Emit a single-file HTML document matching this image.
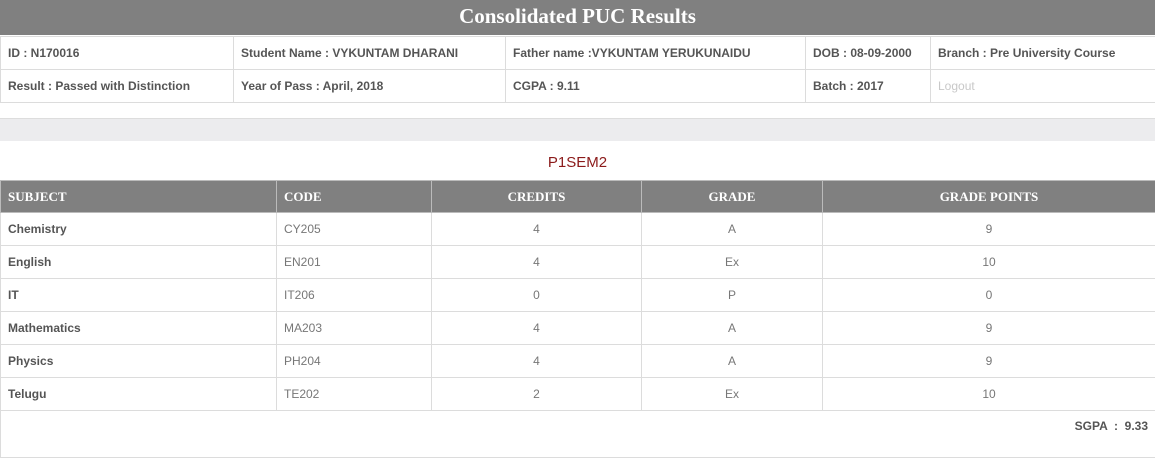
<!DOCTYPE html>
<html><head><meta charset="utf-8"><style>
body{margin:0;width:1155px;height:434px;overflow:hidden;background:#fff;font-family:"Liberation Sans",sans-serif;color:#555;position:relative}
.title{position:absolute;left:0;top:0;width:1155px;height:35px;background:#808080;color:#fff;font-family:"Liberation Serif",serif;font-weight:bold;font-size:21px;text-align:center;line-height:33px}
table{border-collapse:collapse;position:absolute;left:0;table-layout:fixed}
td,th{border:1px solid #dcdcdc;padding:0 7px;font-size:12px;white-space:nowrap;overflow:hidden}
.info td{height:32px;font-weight:bold;color:#555}
.band{position:absolute;left:0;top:118px;width:1155px;height:22px;background:#ececee;border-top:1px solid #ddd}
.sem{position:absolute;left:0;top:154px;width:1155px;text-align:center;color:#8b1a1a;font-size:15px}
.res th{background:#808080;color:#fff;font-family:"Liberation Serif",serif;font-size:13px;height:31px;border-color:#bbb}
.res td{height:32px;color:#777}
.res td.s{font-weight:bold;color:#555}
.c{text-align:center}
</style></head><body>
<div class="title">Consolidated PUC Results</div>
<table class="info" style="top:36px;width:1155px">
<colgroup><col style="width:233px"><col style="width:272px"><col style="width:300px"><col style="width:125px"><col style="width:225px"></colgroup>
<tr><td>ID : N170016</td><td>Student Name : VYKUNTAM DHARANI</td><td>Father name :VYKUNTAM YERUKUNAIDU</td><td>DOB : 08-09-2000</td><td>Branch : Pre University Course</td></tr>
<tr><td>Result : Passed with Distinction</td><td>Year of Pass : April, 2018</td><td>CGPA : 9.11</td><td>Batch : 2017</td><td style="color:#c8c8c8;font-weight:normal">Logout</td></tr>
</table>
<div class="band"></div>
<div class="sem">P1SEM2</div>
<table class="res" style="top:180px;width:1155px">
<colgroup><col style="width:276px"><col style="width:155px"><col style="width:210px"><col style="width:181px"><col style="width:333px"></colgroup>
<tr><th style="text-align:left">SUBJECT</th><th style="text-align:left">CODE</th><th>CREDITS</th><th>GRADE</th><th>GRADE POINTS</th></tr>
<tr><td class="s">Chemistry</td><td>CY205</td><td class="c">4</td><td class="c">A</td><td class="c">9</td></tr>
<tr><td class="s">English</td><td>EN201</td><td class="c">4</td><td class="c">Ex</td><td class="c">10</td></tr>
<tr><td class="s">IT</td><td>IT206</td><td class="c">0</td><td class="c">P</td><td class="c">0</td></tr>
<tr><td class="s">Mathematics</td><td>MA203</td><td class="c">4</td><td class="c">A</td><td class="c">9</td></tr>
<tr><td class="s">Physics</td><td>PH204</td><td class="c">4</td><td class="c">A</td><td class="c">9</td></tr>
<tr><td class="s">Telugu</td><td>TE202</td><td class="c">2</td><td class="c">Ex</td><td class="c">10</td></tr>
<tr><td colspan="5" style="text-align:right;font-weight:bold;color:#555;height:38px;padding-top:8px;vertical-align:top">SGPA &nbsp;:&nbsp; 9.33</td></tr>
</table>
</body></html>
